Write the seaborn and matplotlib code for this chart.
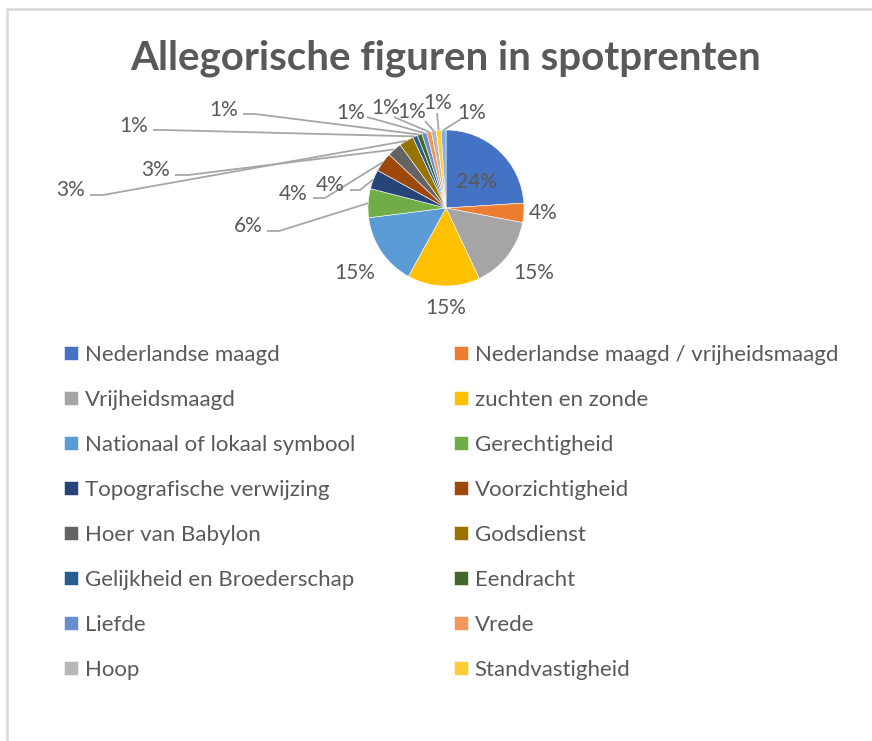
import matplotlib
matplotlib.use("Agg")
import matplotlib.pyplot as plt
import numpy as np
import seaborn as sns

# pie data (percent of prints); the last slice has no legend row in the picture
categories = [
    "Nederlandse maagd", "Nederlandse maagd / vrijheidsmaagd", "Vrijheidsmaagd",
    "zuchten en zonde", "Nationaal of lokaal symbool", "Gerechtigheid",
    "Topografische verwijzing", "Voorzichtigheid", "Hoer van Babylon",
    "Godsdienst", "Gelijkheid en Broederschap", "Eendracht", "Liefde",
    "Vrede", "Hoop", "Standvastigheid", "overig",
]
percentages = [24, 4, 15, 15, 15, 6, 4, 4, 3, 3, 1, 1, 1, 1, 1, 1, 1]
n_legend = 16
title = "Allegorische figuren in spotprenten"

# Excel office palette
colors = ["#4472C4", "#ED7D31", "#A5A5A5", "#FFC000", "#5B9BD5", "#70AD47",
          "#264478", "#9E480E", "#636363", "#997300", "#255E91", "#43682B",
          "#698ED0", "#F1975A", "#B7B7B7", "#FFCD33", "#7CAFDD"]

# layout in pixels (y downwards)
W, H = 872, 741
cx, cy, r = 446, 208, 78
label_pos = [(476, 182), (543, 213), (534, 273), (446, 308), (355, 273),
             (248, 226), (330, 185), (293, 194), (156, 170), (71, 190),
             (134, 126), (224, 110), (351, 113), (386, 108), (412, 112),
             (438, 103), (472, 113)]
leader_start = [None, None, None, None, None,
                [(267, 231), (279, 231)], [(350, 190), (360, 190)],
                [(313, 198), (325, 198)], [(175, 175), (188, 175)],
                [(90, 195), (103, 195)], [(153, 130), (165, 130)],
                [(243, 114), (255, 114)], [(367, 117)], [(394, 117)],
                [(425, 121)], [(437, 113)], [(461, 119)]]

sns.set_theme(style="white")
plt.rcParams["font.family"] = ["Lato", "DejaVu Sans"]
txt = "#595959"

fig = plt.figure(figsize=(W / 100, H / 100), dpi=100)
ax = fig.add_axes([0, 0, 1, 1])

wedges, _ = ax.pie(percentages, colors=colors, center=(cx, cy), radius=r,
                   startangle=-90, counterclock=True,
                   wedgeprops=dict(edgecolor="white", linewidth=0.4))
ax.set_xlim(0, W)
ax.set_ylim(H, 0)
ax.set_aspect("equal")
ax.axis("off")

# data labels with leader lines
cum = np.cumsum(percentages)
for i, p in enumerate(percentages):
    mid = np.deg2rad(-90 + 3.6 * (cum[i] - p / 2))
    lx, ly = label_pos[i]
    ax.text(lx, ly, f"{p}%", ha="center", va="center", fontsize=15, color=txt)
    if leader_start[i] is not None:
        pts = leader_start[i] + [(cx + r * np.cos(mid), cy + r * np.sin(mid))]
        xs, ys = zip(*pts)
        ax.plot(xs, ys, color="#A6A6A6", lw=1.3, solid_capstyle="butt")

ax.text(cx, 58, title, ha="center", va="center", fontsize=29,
        fontweight="bold", color=txt)

# chart border (top and left visible)
ax.plot([7, W], [9, 9], color="#D9D9D9", lw=1.8)
ax.plot([7, 7], [9, H], color="#D9D9D9", lw=1.8)

fs = 16
hl = 14 / (fs * 100 / 72)
for col, x0 in enumerate([64, 454]):
    idx = list(range(col, n_legend, 2))
    leg = fig.legend([wedges[i] for i in idx], [categories[i] for i in idx],
                     loc="upper left", bbox_to_anchor=(x0 / W, 1 - 345 / H),
                     frameon=False, fontsize=fs, labelcolor=txt,
                     handlelength=hl, handleheight=hl, handletextpad=0.3,
                     labelspacing=1.125, borderpad=0, borderaxespad=0)

fig.savefig("out.png", dpi=100)
